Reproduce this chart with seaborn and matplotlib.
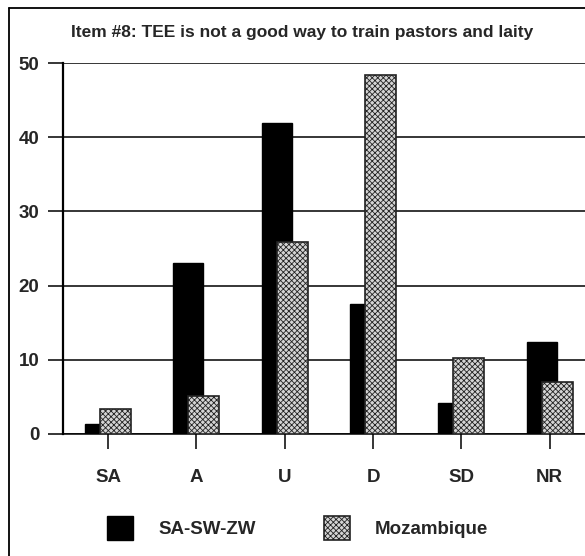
import seaborn as sns
import pandas as pd
import numpy as np
import matplotlib.pyplot as plt
from matplotlib.lines import Line2D

### Item #8 responses by region
categories = ['SA', 'A', 'U', 'D', 'SD', 'NR']
sa_sw_zw = [1.3, 23.0, 41.9, 17.5, 4.2, 12.4]
mozambique = [3.4, 5.1, 25.9, 48.4, 10.2, 7.0]
series_names = ['SA-SW-ZW', 'Mozambique']

df = pd.DataFrame({
    'response': categories * 2,
    'percent': sa_sw_zw + mozambique,
    'group': [series_names[0]] * len(categories) + [series_names[1]] * len(categories),
})

sns.set_style('white')
plt.rcParams['font.family'] = ['Liberation Sans', 'DejaVu Sans']
plt.rcParams['font.weight'] = 'bold'
plt.rcParams['hatch.linewidth'] = 0.6

fig = plt.figure(figsize=(5.85, 5.56), dpi=100)
ax = fig.add_axes([63/585, 122/556, 1 - 63/585, (434-63)/556])

sns.barplot(data=df, x='response', y='percent', hue='group', order=categories,
            hue_order=series_names, palette=['black', '#d4d4d4'], width=0.7,
            saturation=1, legend=False, ax=ax)

# overlapping bars like the original chart
black_bars, moz_bars = ax.containers[0], ax.containers[1]
for i, p in enumerate(black_bars):
    p.set_x(i - 0.26)
    p.set_width(0.34)
    p.set_edgecolor('black')
    p.set_zorder(2)
for i, p in enumerate(moz_bars):
    p.set_x(i - 0.09)
    p.set_width(0.35)
    p.set_hatch('xxxxxx')
    p.set_edgecolor('#222222')
    p.set_linewidth(1.2)
    p.set_zorder(3)

ax.set_xlim(-0.51, 5.40)
ax.set_ylim(0, 50)
ax.set_yticks([0, 10, 20, 30, 40, 50])
ax.yaxis.grid(True, color='black', linewidth=1.1)
ax.set_axisbelow(True)
for s in ['top', 'right']:
    ax.spines[s].set_visible(False)
ax.spines['left'].set_linewidth(1.6)
ax.spines['left'].set_color('black')
ax.spines['bottom'].set_linewidth(1.1)
ax.spines['bottom'].set_color('black')
ax.tick_params(axis='y', length=11, width=1.1, color='black', pad=6, labelsize=13.5, left=True)
ax.tick_params(axis='x', length=11, width=1.1, color='black', pad=14, labelsize=13.5, bottom=True)
ax.set_xlabel('')
ax.set_ylabel('')

fig.text(302/585, 1 - 33/556, 'Item #8: TEE is not a good way to train pastors and laity',
         ha='center', va='center', fontsize=12.5, fontweight='bold')

fig.legend([black_bars, moz_bars], series_names, loc='center left',
           bbox_to_anchor=(107/585, 1 - 528/556), ncol=2, frameon=False,
           fontsize=13.5, handlelength=1.4, handleheight=1.6, handletextpad=1.35,
           columnspacing=3.6, borderpad=0, borderaxespad=0)

# page frame of the scanned chart
fig.add_artist(Line2D([9/585, 9/585], [0, 1 - 8/556], color='black', linewidth=1.3,
                      transform=fig.transFigure))
fig.add_artist(Line2D([9/585, 1], [1 - 8/556, 1 - 8/556], color='black', linewidth=1.3,
                      transform=fig.transFigure))

plt.savefig('out.png', dpi=100)
